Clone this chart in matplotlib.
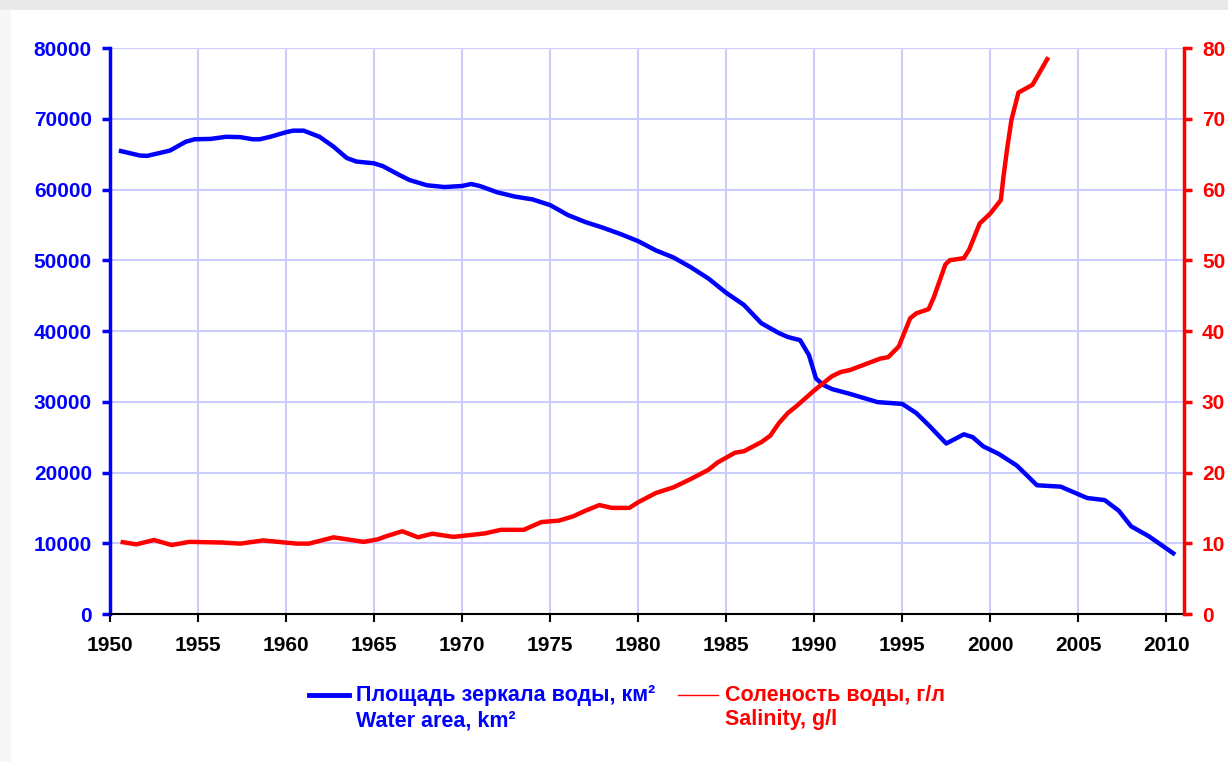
import matplotlib
matplotlib.use("Agg")
import matplotlib.pyplot as plt
from matplotlib.patches import Rectangle
from matplotlib.lines import Line2D

# Water area, km2
area_years = [1950.5, 1951.7, 1952.1, 1953.4, 1954.3, 1954.8, 1955.7, 1956.6, 1957.4,
              1958.1, 1958.5, 1959.1, 1960.0, 1960.4, 1961.0, 1961.9, 1962.7, 1963.45,
              1964.0, 1965.0, 1965.5, 1966.4, 1967.0, 1968.0, 1969.0, 1970.0, 1970.5,
              1971.0, 1972.0, 1973.0, 1974.0, 1975.0, 1976.0, 1977.0, 1978.0, 1979.0,
              1980.0, 1981.0, 1982.0, 1983.0, 1984.0, 1985.0, 1986.0, 1987.0, 1988.0,
              1988.5, 1989.2, 1989.7, 1990.1, 1990.5, 1991.0, 1992.05, 1993.6, 1995.0,
              1995.8, 1996.5, 1997.5, 1998.5, 1999.0, 1999.6, 2000.5, 2001.5, 2002.0,
              2002.65, 2004.0, 2005.5, 2006.5, 2007.3, 2008.0, 2009.0, 2010.5]
area_values = [65500, 64800, 64750, 65500, 66750, 67100, 67150, 67450, 67400,
               67100, 67100, 67450, 68100, 68320, 68320, 67450, 66050, 64450,
               63950, 63700, 63300, 62100, 61350, 60600, 60350, 60500, 60780,
               60500, 59600, 59000, 58600, 57800, 56400, 55400, 54600, 53700,
               52700, 51400, 50400, 49000, 47400, 45400, 43700, 41100, 39700,
               39150, 38700, 36600, 33300, 32400, 31800, 31100, 29950, 29700,
               28400, 26700, 24100, 25400, 25000, 23700, 22600, 21000, 19800,
               18200, 18000, 16400, 16100, 14600, 12400, 11000, 8400]

# Salinity, g/l
sal_years = [1950.6, 1951.5, 1952.5, 1953.5, 1954.5, 1956.4, 1957.4, 1958.7, 1960.6,
             1961.3, 1962.7, 1964.4, 1965.2, 1965.7, 1966.6, 1967.5, 1968.3, 1969.5,
             1970.6, 1971.3, 1972.2, 1973.5, 1974.5, 1975.5, 1976.3, 1977.0, 1977.8,
             1978.5, 1979.5, 1980.0, 1981.0, 1982.0, 1983.0, 1984.0, 1984.5, 1985.5,
             1986.0, 1987.0, 1987.5, 1988.0, 1988.5, 1989.0, 1990.0, 1991.0, 1991.5,
             1992.05, 1993.75, 1994.2, 1994.8, 1995.45, 1995.8, 1996.5, 1996.8, 1997.45,
             1997.7, 1998.5, 1998.8, 1999.4, 2000.0, 2000.6, 2000.75, 2000.95, 2001.2,
             2001.6, 2002.4, 2003.3]
sal_values = [10.2, 9.85, 10.46, 9.75, 10.2, 10.1, 9.95, 10.4, 9.95,
              9.95, 10.84, 10.2, 10.55, 11.0, 11.7, 10.84, 11.35, 10.9,
              11.2, 11.4, 11.9, 11.9, 13.0, 13.2, 13.8, 14.6, 15.4,
              15.0, 15.0, 15.8, 17.1, 17.9, 19.1, 20.4, 21.4, 22.8,
              23.0, 24.3, 25.2, 27.0, 28.4, 29.4, 31.6, 33.6, 34.2,
              34.5, 36.1, 36.3, 37.8, 41.8, 42.5, 43.1, 44.8, 49.4,
              50.0, 50.3, 51.5, 55.2, 56.6, 58.5, 61.8, 65.6, 69.8,
              73.7, 74.8, 78.7]

year_ticks = list(range(1950, 2011, 5))
area_ticks = list(range(0, 80001, 10000))
sal_ticks = list(range(0, 81, 10))

BLUE = "#0000ff"
RED = "#ff0000"
GRID = "#ccccff"
FONT = ["Liberation Sans", "DejaVu Sans"]

plt.rcParams["font.family"] = FONT
plt.rcParams["font.weight"] = "bold"

fig = plt.figure(figsize=(12.28, 7.62), dpi=100, facecolor="white")
# page shadow at the top and left edge
fig.patches.append(Rectangle((0, 0), 0.009, 1, transform=fig.transFigure,
                             facecolor="#f7f7f7", edgecolor="none", zorder=-10))
fig.patches.append(Rectangle((0, 0.987), 1, 0.013, transform=fig.transFigure,
                             facecolor="#e9e9e9", edgecolor="none", zorder=-10))

ax = fig.add_axes([0.0896, 0.1942, 0.8745, 0.7428])
ax.set_facecolor("none")
ax2 = ax.twinx()

ax.plot(area_years, area_values, color=BLUE, linewidth=3.2, solid_capstyle="butt", zorder=3)
ax2.plot(sal_years, sal_values, color=RED, linewidth=3.2, solid_capstyle="butt", zorder=3)

ax.set_xlim(1950, 2011)
ax.set_ylim(0, 80000)
ax2.set_ylim(0, 80)
ax.set_xticks(year_ticks)
ax.set_yticks(area_ticks)
ax2.set_yticks(sal_ticks)
ax.grid(True, color=GRID, linewidth=1.5)
ax.set_axisbelow(True)

for a in (ax, ax2):
    a.spines["top"].set_visible(False)
ax.spines["right"].set_visible(False)
ax2.spines["left"].set_visible(False)
ax2.spines["bottom"].set_visible(False)
ax.spines["left"].set_color(BLUE)
ax.spines["left"].set_linewidth(2.5)
ax.spines["bottom"].set_color("black")
ax.spines["bottom"].set_linewidth(1.5)
ax2.spines["right"].set_color(RED)
ax2.spines["right"].set_linewidth(2.5)

ax.tick_params(axis="y", colors=BLUE, labelsize=15, length=6, width=2.5, pad=7)
ax.tick_params(axis="x", colors="black", labelsize=15, length=6, width=1.5, pad=10)
ax2.tick_params(axis="y", colors=RED, labelsize=15, length=6, width=2.5, pad=7)
for lab in ax.get_yticklabels() + ax.get_xticklabels() + ax2.get_yticklabels():
    lab.set_fontweight("bold")

# legend drawn by hand
fig.add_artist(Line2D([0.252, 0.284], [0.0875, 0.0875], color=BLUE, linewidth=3.5,
                      transform=fig.transFigure))
fig.text(0.290, 0.0875, "Площадь зеркала воды, км²", color=BLUE,
         fontsize=15.5, fontweight="bold", va="center", family=FONT)
fig.text(0.290, 0.054, "Water area, km²", color=BLUE,
         fontsize=15.5, fontweight="bold", va="center", family=FONT)
fig.add_artist(Line2D([0.552, 0.585], [0.0875, 0.0875], color=RED, linewidth=1.0,
                      transform=fig.transFigure))
fig.text(0.590, 0.0875, "Соленость воды, г/л", color=RED,
         fontsize=15.5, fontweight="bold", va="center", family=FONT)
fig.text(0.590, 0.056, "Salinity, g/l", color=RED,
         fontsize=15.5, fontweight="bold", va="center", family=FONT)

fig.savefig("out.png", dpi=100, facecolor=fig.get_facecolor())
